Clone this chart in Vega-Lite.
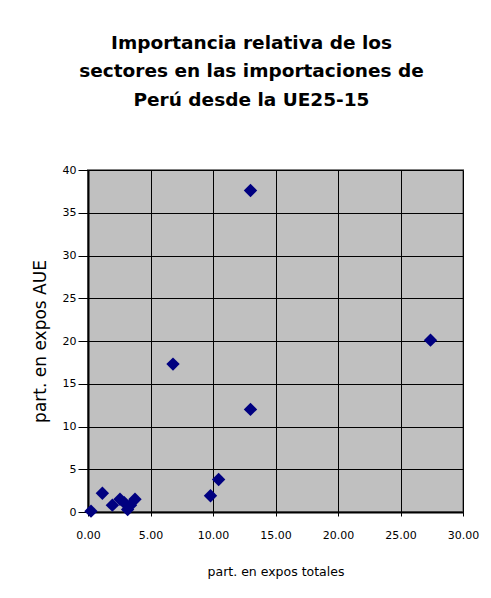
{
  "$schema": "https://vega.github.io/schema/vega-lite/v6.json",
  "autosize": {"type": "none"},
  "width": 375,
  "height": 342,
  "padding": {"left": 88, "top": 170, "right": 28, "bottom": 86},
  "background": "white",
  "title": {
    "text": ["Importancia relativa de los", "sectores en las importaciones de", "Perú desde la UE25-15"],
    "font": "DejaVu Sans",
    "fontSize": 18.5,
    "fontWeight": "bold",
    "color": "black",
    "lineHeight": 28.5,
    "anchor": "middle",
    "frame": "group",
    "dx": -24,
    "offset": 55
  },
  "data": {
    "values": [
      {"x": 0.24, "y": 0.1},
      {"x": 1.15, "y": 2.2},
      {"x": 1.95, "y": 0.8},
      {"x": 2.56, "y": 1.5},
      {"x": 2.9, "y": 1.1},
      {"x": 3.17, "y": 0.3},
      {"x": 3.4, "y": 0.8},
      {"x": 3.76, "y": 1.5},
      {"x": 6.8, "y": 17.3},
      {"x": 9.8, "y": 1.9},
      {"x": 10.45, "y": 3.8},
      {"x": 13.0, "y": 37.6},
      {"x": 13.0, "y": 12.0},
      {"x": 27.4, "y": 20.1}
    ]
  },
  "mark": {"type": "point", "shape": "diamond", "filled": true, "size": 180, "color": "#000080", "opacity": 1, "clip": false},
  "encoding": {
    "x": {
      "field": "x", "type": "quantitative",
      "scale": {"domain": [0, 30], "nice": false, "zero": true},
      "axis": {
        "title": "part. en expos totales",
        "values": [0, 5, 10, 15, 20, 25, 30],
        "format": ".2f",
        "labelFlush": false,
        "labelOverlap": false,
        "grid": true, "gridColor": "black", "gridWidth": 1, "gridOpacity": 1,
        "domainColor": "black", "domainWidth": 2,
        "tickColor": "black", "tickSize": 4,
        "labelPadding": 13,
        "labelFont": "DejaVu Sans", "labelFontSize": 11, "labelColor": "black",
        "titleFont": "DejaVu Sans", "titleFontSize": 12.5, "titleFontWeight": "normal", "titleColor": "black",
        "titlePadding": 25
      }
    },
    "y": {
      "field": "y", "type": "quantitative",
      "scale": {"domain": [0, 40], "nice": false, "zero": true},
      "axis": {
        "title": "part. en expos AUE",
        "values": [0, 5, 10, 15, 20, 25, 30, 35, 40],
        "labelFlush": false,
        "grid": true, "gridColor": "black", "gridWidth": 1, "gridOpacity": 1,
        "domainColor": "black", "domainWidth": 2,
        "tickColor": "black", "tickSize": 10,
        "labelPadding": 2,
        "labelFont": "DejaVu Sans", "labelFontSize": 11, "labelColor": "black",
        "titleFont": "DejaVu Sans", "titleFontSize": 17, "titleFontWeight": "normal", "titleColor": "black",
        "titlePadding": 13
      }
    }
  },
  "config": {
    "view": {"fill": "#C0C0C0", "stroke": "#808080", "strokeWidth": 2}
  }
}
